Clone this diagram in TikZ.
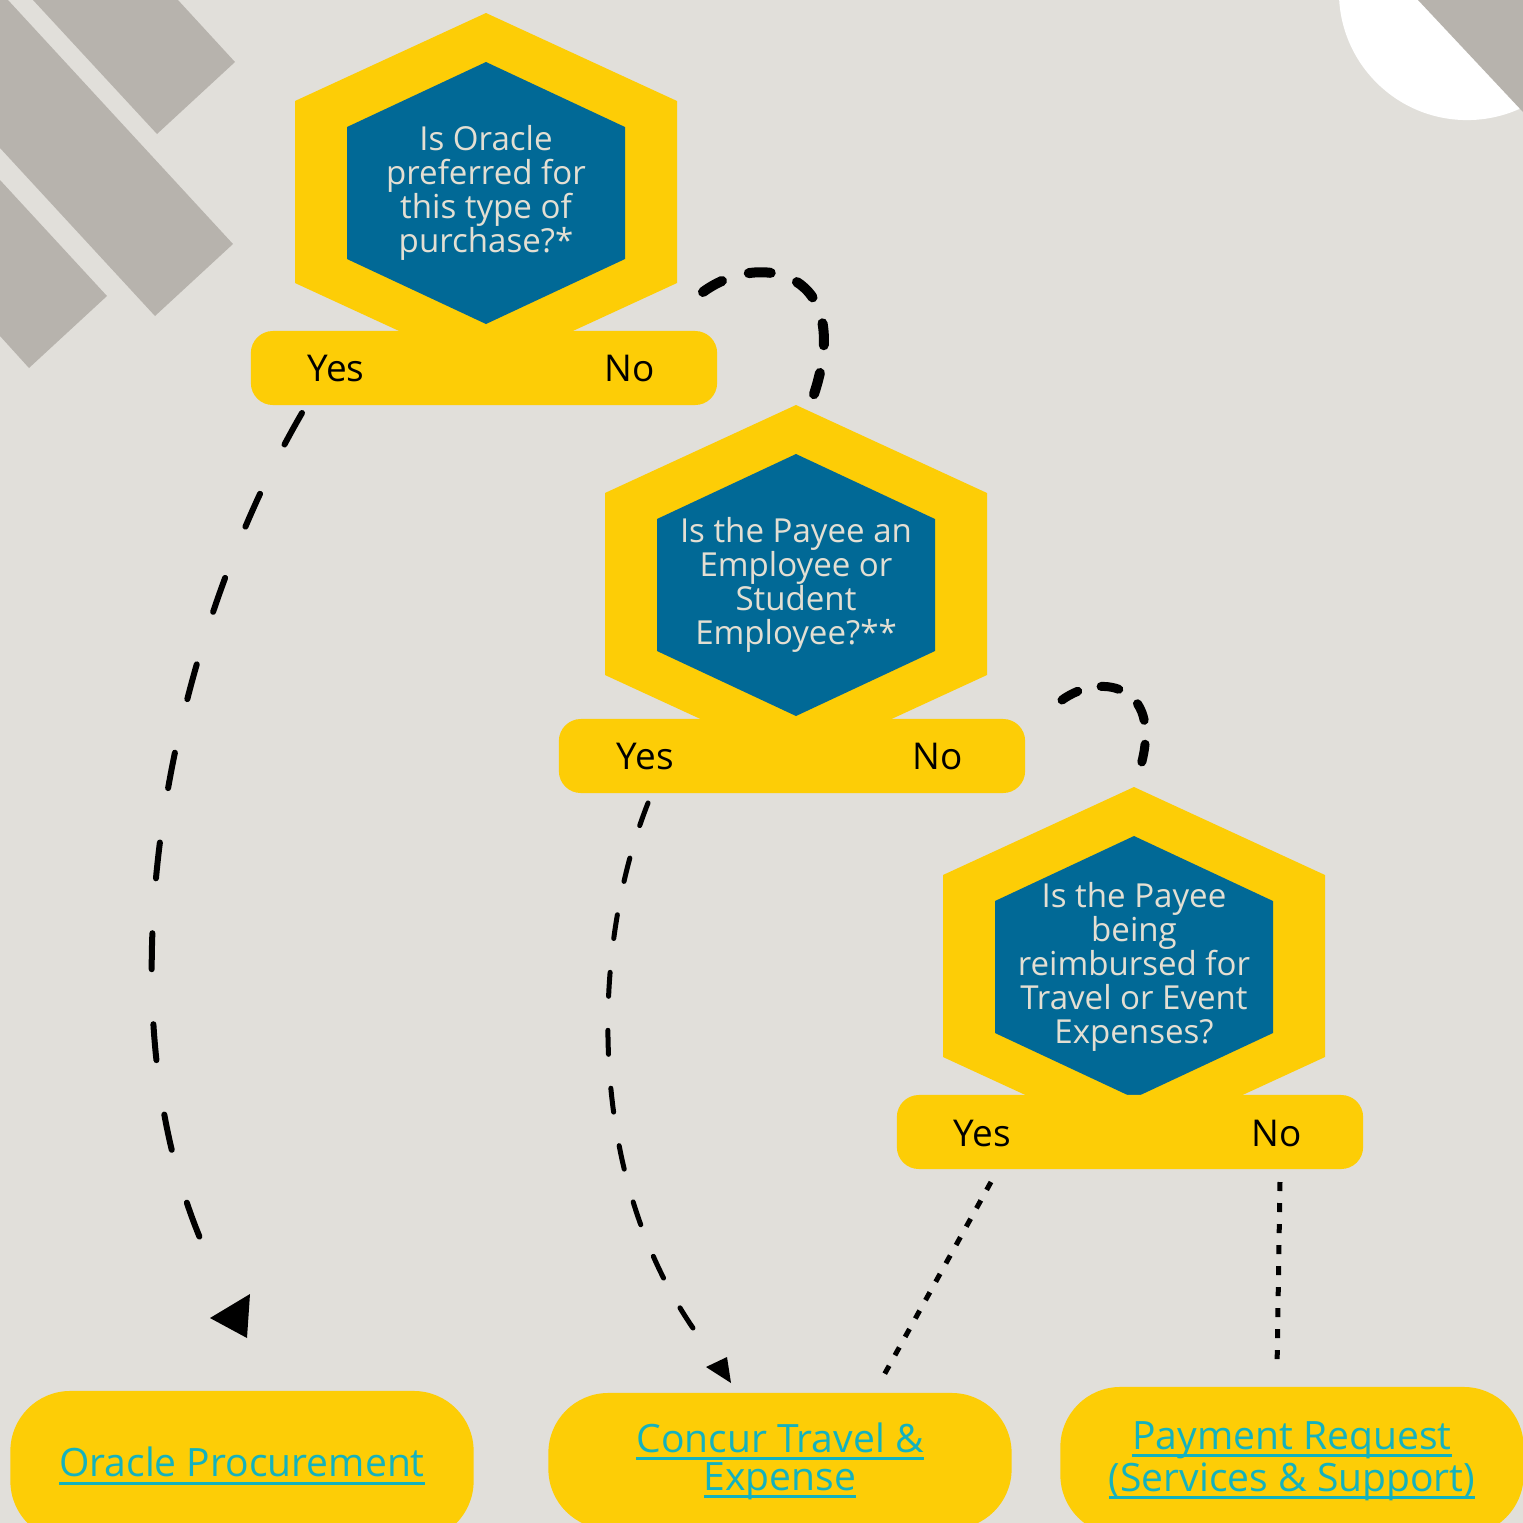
\documentclass[tikz,border=0pt]{standalone}
\usepackage{fontspec}
\setmainfont{Open Sans}
\usetikzlibrary{positioning}

\definecolor{bg}{HTML}{E1DFDA}
\definecolor{stripe}{HTML}{B7B3AD}
\definecolor{hexyellow}{HTML}{FDCD06}
\definecolor{hexblue}{HTML}{016996}
\definecolor{qtext}{HTML}{E3DFD3}
\definecolor{linktext}{HTML}{14B2BE}

% underlined link text, line at a fixed depth
\newlength{\ulinkwd}
\newcommand{\ulink}[1]{\settowidth{\ulinkwd}{#1}\rlap{\rule[-0.2em]{\ulinkwd}{0.08em}}#1}

% hexagon with its question: name, centre x, top y, text
\newcommand{\decision}[4]{%
	\begin{scope}[shift={(#2,#3)}]
		\fill[hexyellow] (0,0) -- (191,88) -- (191,270) -- (0,358) -- (-191,270) -- (-191,88) -- cycle;
		\fill[hexblue] (0,49) -- (139,114) -- (139,246) -- (0,311) -- (-139,246) -- (-139,114) -- cycle;
		\node[question] (#1) at (0,180) {#4};
	\end{scope}}

\begin{document}
\begin{tikzpicture}[
	x = 0.01cm, y = -0.01cm, % one unit per pixel, y going down
	question/.style={text=qtext, align=center, font=\fontsize{9.4}{9.7}\selectfont},
	bar/.style={fill=hexyellow, rounded corners=0.22cm, minimum width=4.66cm, minimum height=0.74cm},
	answer/.style={text=black, font=\fontsize{10.5}{12}\selectfont},
	target/.style={fill=hexyellow, rounded corners=0.6cm, minimum width=4.63cm, align=center, text=linktext, font=\fontsize{11.1}{10.8}\selectfont},
	hook/.style={line width=0.1cm, line cap=round, dash pattern=on 0.22cm off 0.28cm},
	yesline/.style={line width=0.06cm, line cap=round, dash pattern=on 0.36cm off 0.55cm},
	dots/.style={line width=0.05cm, dash pattern=on 0.09cm off 0.12cm},
	]

	% background and corner shapes
	\fill[bg] (0,0) rectangle (1523,1523);
	\useasboundingbox (0,0) rectangle (1523,1523);
	\fill[stripe] (33,0) -- (178,0) -- (235,62) -- (157,134) -- cycle;
	\fill[stripe] (0,0) -- (8,0) -- (233,244) -- (155,316) -- (0,148) -- cycle;
	\fill[stripe] (0,180) -- (107,296) -- (29,368) -- (0,336) -- cycle;
	\fill[white] (1467,-8) circle[radius=1.28cm];
	\fill[stripe] (1418,0) -- (1523,0) -- (1523,112) -- cycle;

	% Decisions
	\decision{q1}{486}{13}{Is Oracle\\preferred for\\this type of\\purchase?*}
	\decision{q2}{796}{405}{Is the Payee an\\Employee or\\Student\\Employee?**}
	\decision{q3}{1134}{787}{Is the Payee\\being\\reimbursed for\\Travel or Event\\Expenses?}

	\node[bar] (bar1) at (484,368) {};
	\node[bar] (bar2) at (792,756) {};
	\node[bar] (bar3) at (1130,1132) {};

	\node[answer] (y1) at (336,368) {Yes};
	\node[answer] (n1) at (630,368) {No};
	\node[answer] (y2) at (645,756) {Yes};
	\node[answer] (n2) at (938,756) {No};
	\node[answer] (y3) at (982,1133) {Yes};
	\node[answer] (n3) at (1277,1133) {No};

	% Targets
	\node[target, minimum height=1.50cm] (oracle)  at (242,1466) {\ulink{Oracle Procurement}};
	\node[target, minimum height=1.36cm] (concur)  at (780,1461) {\ulink{Concur Travel \&}\\\ulink{Expense}};
	\node[target, minimum height=1.48cm] (payment) at (1292,1461) {\ulink{Payment Request}\\\ulink{(Services \& Support)}};

	% Ends of the connectors
	\coordinate (y1out) at (302,413);
	\coordinate (y1in)  at (212,1265);
	\coordinate (n1out) at (703,292);
	\coordinate (n1in)  at (812,400);
	\coordinate (y2out) at (648,803);
	\coordinate (y2in)  at (700,1338);
	\coordinate (n2out) at (1062,700);
	\coordinate (n2in)  at (1138,775);
	\coordinate (y3out) at (991,1182);
	\coordinate (y3in)  at (884,1375);
	\coordinate (n3out) at (1280,1182);
	\coordinate (n3in)  at (1277,1370);

	% Paths connecting nodes
	\draw[yesline] (y1out) .. controls (170,640) and (90,1010) .. (y1in);
	\fill (210,1318) -- (250,1294) -- (247,1338) -- cycle;
	\draw[hook] (n1out) .. controls (760,250) and (858,270) .. (n1in);
	\draw[yesline, line width=0.05cm, dash pattern=on 0.24cm off 0.34cm] (y2out) .. controls (590,950) and (585,1180) .. (y2in);
	\fill (706,1367) -- (727,1357) -- (731,1383) -- cycle;
	\draw[hook, line width=0.09cm, dash pattern=on 0.18cm off 0.24cm] (n2out) .. controls (1102,671) and (1168,685) .. (n2in);
	\draw[dots] (y3out) -- (y3in);
	\draw[dots] (n3out) -- (n3in);

\end{tikzpicture}
\end{document}
